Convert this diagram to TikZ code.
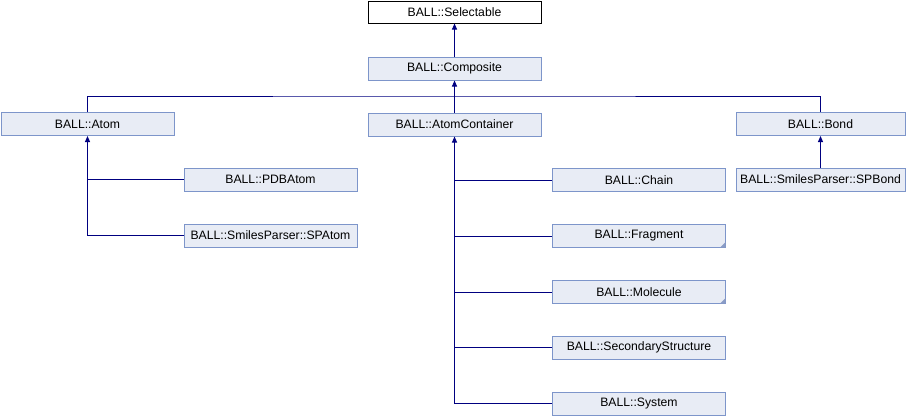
\documentclass[tikz,border=0pt]{standalone}
\usepackage{fontspec}
\setmainfont{Liberation Sans}
\usetikzlibrary{arrows.meta, positioning, calc}
\definecolor{boxfill}{HTML}{E8ECF5}
\definecolor{boxline}{HTML}{7D95CA}
\definecolor{edgeblue}{HTML}{000080}
\definecolor{cornerfill}{HTML}{8A9CC6}

\begin{document}
\begin{tikzpicture}[x=1pt, y=1pt, font=\fontsize{12.2}{14}\selectfont,
    cls/.style={draw=boxline, fill=boxfill, minimum width=173pt, minimum height=23pt, inner sep=0pt, line width=1pt},
    topcls/.style={cls, draw=black, fill=white, minimum height=22pt},
    link/.style={draw=edgeblue, line width=1pt},
    inh/.style={link, {Triangle[length=6pt, width=5pt]}-}]
    \useasboundingbox (0,0) rectangle (910,-416);

    % Base classes
    \node[topcls] (sel) at (454.5,-12) {BALL::Selectable};
    \node[cls] (comp) at (454.5,-68.5) {BALL::Composite};

    % Direct children of Composite
    \node[cls] (atom) at (87.5,-124) {BALL::Atom};
    \node[cls] (acont) at (454.5,-124.5) {BALL::AtomContainer};
    \node[cls, minimum width=169pt] (bond) at (820.5,-124) {BALL::Bond};

    % Atom children
    \node[cls] (pdb) at (270.5,-179.5) {BALL::PDBAtom};
    \node[cls] (spatom) at (270.5,-235.5) {BALL::SmilesParser::SPAtom};

    % Bond children
    \node[cls, minimum width=169pt] (spbond) at (820.5,-179.5) {BALL::SmilesParser::SPBond};

    % AtomContainer children
    \node[cls] (chain) at (639,-180) {BALL::Chain};
    \node[cls] (frag) at (639,-236) {BALL::Fragment};
    \node[cls] (mol) at (639,-292) {BALL::Molecule};
    \node[cls] (sec) at (639,-347.5) {BALL::SecondaryStructure};
    \node[cls] (sys) at (639,-403.5) {BALL::System};

    % More derived classes
    \foreach \n in {frag, mol}
        \fill[cornerfill] ([xshift=-6pt,yshift=0.5pt]\n.south east) -- ([shift={(-0.5pt,0.5pt)}]\n.south east) -- ([shift={(-0.5pt,6pt)}]\n.south east) -- cycle;

    % Inheritance
    \draw[inh] (sel.south) -- (comp.north);
    \coordinate (bus) at (454.5,-96);
    \draw[inh] (comp.south) -- (acont.north);
    \draw[link] (atom.north) |- (bus) -| (bond.north);
    \draw[inh] (atom.south) |- (spatom.west);
    \draw[link] (atom.south |- pdb.west) -- (pdb.west);
    \draw[inh] (bond.south) -- (spbond.north);
    \draw[inh] (acont.south) |- (sys.west);
    \foreach \n in {chain, frag, mol, sec}
        \draw[link] (acont.south |- \n.west) -- (\n.west);
\end{tikzpicture}
\end{document}
